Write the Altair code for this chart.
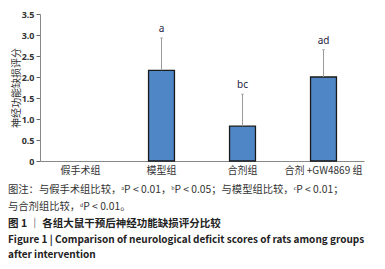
import altair as alt
import pandas as pd

groups = ["假手术组", "模型组", "合剂组", "合剂 +GW4869 组"]
means = [0.0, 2.16, 0.83, 2.0]
upper = [0.0, 2.93, 1.59, 2.65]
marks = ["", "a", "bc", "ad"]

y_ticks = [0, 0.5, 1.0, 1.5, 2.0, 2.5, 3.0, 3.5]

note_lines = [
    "图注：与假手术组比较，ᵃP < 0.01，ᵇP < 0.05；与模型组比较，ᶜP < 0.01；",
    "与合剂组比较，ᵈP < 0.01。",
]
caption_lines = [
    "图 1 ｜ 各组大鼠干预后神经功能缺损评分比较",
    "Figure 1  |  Comparison of neurological deficit scores of rats among groups",
    "after intervention",
]

df = pd.DataFrame({"group": groups, "mean": means, "upper": upper, "mark": marks})
bars_df = df[df["mean"] > 0]

FONT = "Noto Sans CJK SC"

x_enc = alt.X(
    "group:N",
    sort=groups,
    scale=alt.Scale(domain=groups, paddingInner=0.68, paddingOuter=0.34),
    axis=alt.Axis(
        title=None,
        labelAngle=0,
        ticks=False,
        labelFont=FONT,
        labelFontSize=10,
        labelColor="#333333",
        labelPadding=4,
        domainColor="#888888",
    ),
)

y_scale = alt.Scale(domain=[0, 3.5], nice=False)
y_axis = alt.Axis(
    values=y_ticks,
    grid=False,
    labelOverlap=False,
    labelBound=False,
    labelFlush=False,
    labelExpr="datum.value == 0 ? '0' : format(datum.value, '.1f')",
    labelFont="Noto Sans",
    labelFontSize=9,
    labelFontWeight="bold",
    labelColor="#333333",
    labelPadding=2,
    tickColor="#666666",
    tickSize=4,
    domainColor="#888888",
    title="神经功能缺损评分",
    titleFont=FONT,
    titleFontSize=10,
    titleFontWeight="normal",
    titleColor="#333333",
    titleAngle=-90,
    titleX=-24,
    titleBaseline="middle",
)

bars = alt.Chart(bars_df).mark_bar(
    color="#4F86C6", stroke="#1a1a1a", strokeWidth=1.3
).encode(
    x=x_enc,
    y=alt.Y("mean:Q", scale=y_scale, axis=y_axis),
)

errs = alt.Chart(bars_df).mark_rule(color="#9a9a9a", strokeWidth=1).encode(
    x=x_enc, y=alt.Y("mean:Q", scale=y_scale, axis=y_axis), y2="upper:Q"
)

caps = alt.Chart(bars_df).mark_tick(color="#9a9a9a", size=3, thickness=1).encode(
    x=x_enc, y=alt.Y("upper:Q", scale=y_scale, axis=y_axis)
)

labels = alt.Chart(bars_df).mark_text(
    font="Noto Sans", fontSize=10, color="#1f2340", dy=-9
).encode(x=x_enc, y=alt.Y("upper:Q", scale=y_scale, axis=y_axis), text="mark:N")


def caption(text, ypix, bold, size):
    return alt.Chart(df.head(1)).mark_text(
        font=FONT,
        fontSize=size,
        fontWeight="bold" if bold else "normal",
        color="#222222" if bold else "#333333",
        align="left",
        baseline="middle",
    ).encode(x=alt.value(-32), y=alt.value(ypix), text=alt.value(text))


cap_layers = [
    caption(note_lines[0], 176, False, 10.3),
    caption(note_lines[1], 193, False, 10.3),
    caption(caption_lines[0], 210, True, 10.5),
    caption(caption_lines[1], 226, True, 10),
    caption(caption_lines[2], 241, True, 10),
]

chart = (
    alt.layer(bars, errs, caps, labels, *cap_layers)
    .properties(
        width=324,
        height=147,
        autosize=alt.AutoSizeParams(type="none"),
        padding={"left": 32, "top": 6, "right": 13, "bottom": 100},
    )
    .configure_view(stroke=None)
)

chart.save("out.html", embed_options={"renderer": "svg", "actions": False})
